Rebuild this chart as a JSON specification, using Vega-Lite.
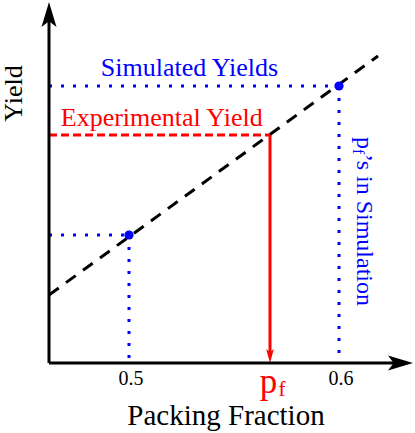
{
  "$schema": "https://vega.github.io/schema/vega-lite/v6.json",
  "width": 415,
  "height": 433,
  "autosize": {"type": "none"},
  "padding": 0,
  "config": {"view": {"stroke": null}, "font": "Liberation Serif"},
  "encoding": {
    "x": {"field": "x", "type": "quantitative", "scale": {"domain": [0.438571, 0.63619], "nice": false, "zero": false}, "axis": null},
    "y": {"field": "y", "type": "quantitative", "scale": {"domain": [-0.202166, 1.048375], "nice": false, "zero": false}, "axis": null}
  },
  "layer": [
    {
      "data": {"values": [
        {"x": 0.461905, "y": 0.8, "x2": 0.6, "y2": 0.8},
        {"x": 0.6, "y": 0.8, "x2": 0.6, "y2": 0},
        {"x": 0.461905, "y": 0.36968, "x2": 0.5, "y2": 0.36968},
        {"x": 0.5, "y": 0.36968, "x2": 0.5, "y2": 0}
      ]},
      "mark": {"type": "rule", "color": "#0000ff", "strokeWidth": 3, "strokeDash": [3, 9], "strokeCap": "butt"},
      "encoding": {"x2": {"field": "x2"}, "y2": {"field": "y2"}}
    },
    {
      "data": {"values": [{"x": 0.461905, "y": 0.19639, "x2": 0.618571, "y2": 0.88664}]},
      "mark": {"type": "rule", "color": "#000000", "strokeWidth": 3, "strokeDash": [12, 9], "strokeCap": "butt"},
      "encoding": {"x2": {"field": "x2"}, "y2": {"field": "y2"}}
    },
    {
      "data": {"values": [{"x": 0.461905, "y": 0.65848, "x2": 0.567143, "y2": 0.65848}]},
      "mark": {"type": "rule", "color": "#ff0000", "strokeWidth": 3, "strokeDash": [8, 4], "strokeCap": "butt"},
      "encoding": {"x2": {"field": "x2"}, "y2": {"field": "y2"}}
    },
    {
      "data": {"values": [{"x": 0.567143, "y": 0.65848, "x2": 0.567143, "y2": 0.03177}]},
      "mark": {"type": "rule", "color": "#ff0000", "strokeWidth": 3},
      "encoding": {"x2": {"field": "x2"}, "y2": {"field": "y2"}}
    },
    {
      "data": {"values": [{"x": 0.567143, "y": 0.02022}]},
      "mark": {"type": "point", "shape": "M0,1 L0.55,-1 L0,-0.55 L-0.55,-1 Z", "size": 196, "filled": true, "color": "#ff0000", "opacity": 1, "strokeWidth": 0}
    },
    {
      "data": {"values": [
        {"x": 0.461905, "y": 0, "x2": 0.461905, "y2": 1.01372},
        {"x": 0.461905, "y": 0, "x2": 0.631429, "y2": 0}
      ]},
      "mark": {"type": "rule", "color": "#000000", "strokeWidth": 3},
      "encoding": {"x2": {"field": "x2"}, "y2": {"field": "y2"}}
    },
    {
      "data": {"values": [{"x": 0.461905, "y": 1.0065}]},
      "mark": {"type": "point", "shape": "M0,-1 L0.6,1 L0,0.55 L-0.6,1 Z", "size": 625, "filled": true, "color": "#000000", "opacity": 1, "strokeWidth": 0}
    },
    {
      "data": {"values": [{"x": 0.629286, "y": 0}]},
      "mark": {"type": "point", "shape": "M1,0 L-1,0.6 L-0.55,0 L-1,-0.6 Z", "size": 625, "filled": true, "color": "#000000", "opacity": 1, "strokeWidth": 0}
    },
    {
      "data": {"values": [{"x": 0.5, "y": 0.36968}, {"x": 0.6, "y": 0.8}]},
      "mark": {"type": "point", "shape": "circle", "size": 85, "filled": true, "color": "#0000ff", "opacity": 1, "strokeWidth": 0}
    },
    {
      "data": {"values": [{"x": 0.52881, "y": 0.82888, "label": "Simulated Yields"}]},
      "mark": {"type": "text", "color": "#0000ff", "fontSize": 26, "align": "center", "baseline": "alphabetic"},
      "encoding": {"text": {"field": "label"}}
    },
    {
      "data": {"values": [{"x": 0.515571, "y": 0.68448, "label": "Experimental Yield"}]},
      "mark": {"type": "text", "color": "#ff0000", "fontSize": 26, "align": "center", "baseline": "alphabetic"},
      "encoding": {"text": {"field": "label"}}
    },
    {
      "data": {"values": [{"x": 0.449048, "y": 0.77834, "label": "Yield"}]},
      "mark": {"type": "text", "color": "#000000", "fontSize": 26, "align": "center", "baseline": "alphabetic", "angle": 270},
      "encoding": {"text": {"field": "label"}}
    },
    {
      "data": {"values": [{"x": 0.54619, "y": -0.17906, "label": "Packing Fraction"}]},
      "mark": {"type": "text", "color": "#000000", "fontSize": 29, "align": "center", "baseline": "alphabetic"},
      "encoding": {"text": {"field": "label"}}
    },
    {
      "data": {"values": [{"x": 0.5, "y": -0.06354, "label": "0.5"}, {"x": 0.6, "y": -0.06354, "label": "0.6"}]},
      "mark": {"type": "text", "color": "#000000", "fontSize": 20, "align": "center", "baseline": "alphabetic", "dx": 2},
      "encoding": {"text": {"field": "label"}}
    },
    {
      "data": {"values": [{"x": 0.566429, "y": -0.08664, "label": "p"}]},
      "mark": {"type": "text", "color": "#ff0000", "fontSize": 35, "align": "center", "baseline": "alphabetic"},
      "encoding": {"text": {"field": "label"}}
    },
    {
      "data": {"values": [{"x": 0.572857, "y": -0.09531, "label": "f"}]},
      "mark": {"type": "text", "color": "#ff0000", "fontSize": 21, "align": "center", "baseline": "alphabetic"},
      "encoding": {"text": {"field": "label"}}
    },
    {
      "data": {"values": [{"x": 0.608571, "y": 0.6527, "label": "p"}]},
      "mark": {"type": "text", "color": "#0000ff", "fontSize": 24, "align": "left", "baseline": "alphabetic", "angle": 90},
      "encoding": {"text": {"field": "label"}}
    },
    {
      "data": {"values": [{"x": 0.608571, "y": 0.6527, "label": "f"}]},
      "mark": {"type": "text", "color": "#0000ff", "fontSize": 16, "align": "left", "baseline": "alphabetic", "angle": 90, "dx": 12, "dy": 4},
      "encoding": {"text": {"field": "label"}}
    },
    {
      "data": {"values": [{"x": 0.608571, "y": 0.6527, "label": "’s in Simulation"}]},
      "mark": {"type": "text", "color": "#0000ff", "fontSize": 24, "align": "left", "baseline": "alphabetic", "angle": 90, "dx": 17},
      "encoding": {"text": {"field": "label"}}
    }
  ]
}
